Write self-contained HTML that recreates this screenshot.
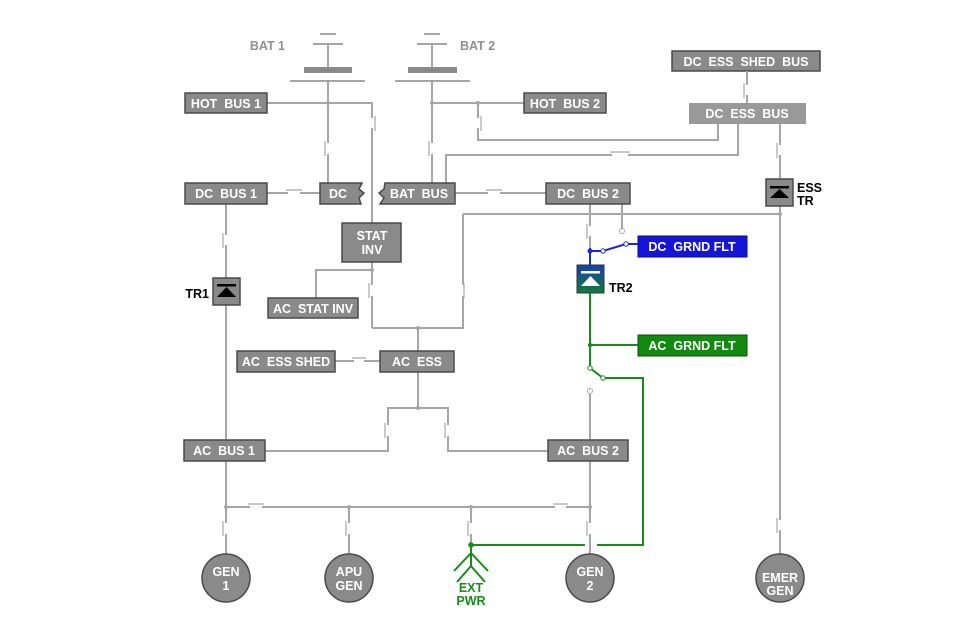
<!DOCTYPE html>
<html><head><meta charset="utf-8"><style>
html,body{margin:0;padding:0;background:#fff;}
svg{display:block}
text{font-family:"Liberation Sans",sans-serif;font-weight:bold;white-space:pre;}
.b{fill:#8a8a8a;stroke:#4a4a4a;stroke-width:1.5}
.t{fill:#fff;font-size:12.5px;text-anchor:middle}
.l{stroke:#a6a6a6;stroke-width:2;fill:none}
.s{stroke:#a6a6a6;stroke-width:1.2;fill:none}
.g{stroke:#1a8a1a;stroke-width:2;fill:none}
.bl{stroke:#1a2ad0;stroke-width:2;fill:none}
</style></head><body>
<svg width="960" height="641" viewBox="0 0 960 641" xml:space="preserve">
<g class="l">
<line x1="320" y1="34" x2="336" y2="34"/><line x1="313" y1="44" x2="343" y2="44"/><line x1="328" y1="44" x2="328" y2="67"/>
<line x1="290" y1="81" x2="365" y2="81"/>
<line x1="424" y1="34" x2="440" y2="34"/><line x1="417" y1="44" x2="447" y2="44"/><line x1="432" y1="44" x2="432" y2="67"/>
<line x1="395" y1="81" x2="470" y2="81"/>
</g>
<rect x="304" y="67" width="48" height="6" fill="#8a8a8a"/>
<rect x="408" y="67" width="49" height="6" fill="#8a8a8a"/>
<text x="285" y="50" font-size="12.5" fill="#909090" text-anchor="end">BAT 1</text>
<text x="460" y="50" font-size="12.5" fill="#909090">BAT 2</text>

<g class="l">
<path d="M328 81V143M328 154V183"/>
<path d="M267 103H372V118M372 128V223"/>
<path d="M432 81V143M432 154V183"/>
<path d="M432 103H524"/>
<path d="M478 103V118M478 128V140H718V124"/>
<path d="M446 183V155H612M628 155H738V124"/>
<path d="M267 193H288M300 193H320"/>
<path d="M455 193H488M500 193H546"/>
<path d="M780 124V145M780 155V179"/>
<path d="M780 206V520M780 530V554"/>
<path d="M463 214H780"/>
<path d="M463 214V285M463 296V328H372"/>
<path d="M372 262V285M372 296V328"/>
<path d="M372 270H316V298"/>
<path d="M418 328V351"/>
<path d="M335 361H354M364 361H380"/>
<path d="M418 372V408H388V425M388 436V451H265"/>
<path d="M418 408H448V425M448 436V451H548"/>
<path d="M226 204V235M226 245V278"/>
<path d="M226 305V440"/>
<path d="M226 461V523M226 534V554"/>
<path d="M226 507H250M262 507H555M566 507H590"/>
<path d="M349 507V523M349 534V554"/>
<path d="M471 507V523M471 534V545"/>
<path d="M590 393V440M590 461V523M590 534V554"/>
<path d="M590 204V226M590 236V248"/>
<path d="M622 204V229"/>
</g>
<g class="s">
<path d="M325 141V156M375 116V131M429 141V156M481 116V131M223 233V248M464 283V298M369 283V298M385 423V438M445 423V438M223 521V536M346 521V536M468 521V536M587 521V536M777 518V533M777 143V158M587 224V239M286 190H302M486 190H502M610 152H630M352 358H366M248 504H264M553 504H568"/>
</g>
<circle cx="622" cy="231" r="2.5" fill="#fff" stroke="#a6a6a6"/>
<circle cx="590" cy="391" r="2.5" fill="#fff" stroke="#a6a6a6"/>
<g fill="#a6a6a6"><circle cx="328" cy="103" r="2"/><circle cx="432" cy="103" r="2"/><circle cx="478" cy="103" r="2"/><circle cx="418" cy="328" r="2"/><circle cx="372" cy="270" r="2"/><circle cx="418" cy="408" r="2"/><circle cx="226" cy="507" r="2"/><circle cx="349" cy="507" r="2"/><circle cx="471" cy="507" r="2"/><circle cx="590" cy="507" r="2"/><circle cx="780" cy="214" r="2"/></g>

<rect class="b" x="185" y="93" width="82" height="20"/><text class="t" x="226" y="108">HOT  BUS 1</text>
<rect class="b" x="524" y="93" width="82" height="20"/><text class="t" x="565" y="108">HOT  BUS 2</text>
<rect class="b" x="185" y="183" width="82" height="21"/><text class="t" x="226" y="198">DC  BUS 1</text>
<path class="b" d="M320 183H362L359 189L364 193L359 198L361 204H320Z"/><text class="t" x="338" y="198">DC</text>
<path class="b" d="M385 183H455V204H380L384 198L379 193L384 189Z"/><text class="t" x="419" y="198">BAT  BUS</text>
<rect class="b" x="546" y="183" width="84" height="21"/><text class="t" x="588" y="198">DC  BUS 2</text>
<rect class="b" x="672" y="51" width="148" height="20"/><text class="t" x="746" y="66">DC  ESS  SHED  BUS</text>
<path class="l" d="M747 71V85M747 95V103"/><path class="s" d="M744 83V98"/>
<rect x="689" y="103" width="117" height="21" fill="#999"/><text class="t" x="747" y="118">DC  ESS  BUS</text>
<rect class="b" x="342" y="223" width="59" height="39"/><text class="t" x="372" y="240">STAT</text><text class="t" x="372" y="254">INV</text>
<rect class="b" x="268" y="298" width="90" height="20"/><text class="t" x="313" y="313">AC  STAT INV</text>
<rect class="b" x="237" y="351" width="98" height="21"/><text class="t" x="286" y="366">AC  ESS SHED</text>
<rect class="b" x="380" y="351" width="74" height="21"/><text class="t" x="417" y="366">AC  ESS</text>
<rect class="b" x="184" y="440" width="81" height="21"/><text class="t" x="224" y="455">AC  BUS 1</text>
<rect class="b" x="548" y="440" width="80" height="21"/><text class="t" x="588" y="455">AC  BUS 2</text>

<rect class="b" x="213" y="278" width="27" height="27"/><rect x="217" y="284" width="19" height="2.5" fill="#000"/><path d="M217 297H236L226.5 287Z" fill="#000"/><text x="209" y="298" font-size="12.5" text-anchor="end">TR1</text>
<rect class="b" x="766" y="179" width="27" height="27"/><rect x="770" y="186" width="19" height="2.5" fill="#000"/><path d="M770 198H789L779.5 189Z" fill="#000"/><text x="797" y="192" font-size="12.5">ESS</text><text x="797" y="205" font-size="12.5">TR</text>

<defs><linearGradient id="tg" x1="0" y1="0" x2="0" y2="1"><stop offset="0" stop-color="#1a3fb0"/><stop offset="1" stop-color="#137a3a"/></linearGradient></defs>
<path class="bl" d="M590 248V265M590 251H603L626 244H638"/>
<circle cx="590" cy="251" r="2.5" fill="#1a2ad0"/><circle cx="603" cy="251" r="2.2" fill="#fff" stroke="#1a2ad0"/><circle cx="626" cy="244" r="2.2" fill="#fff" stroke="#1a2ad0"/>
<rect x="638" y="236" width="109" height="21" fill="#1515d8" stroke="#0a0a80"/><text class="t" x="692" y="251">DC  GRND FLT</text>
<rect x="577" y="265" width="27" height="28" fill="url(#tg)" stroke="#333"/><rect x="581" y="271" width="19" height="2.5" fill="#fff"/><path d="M581 286H600L590.5 276Z" fill="#fff"/>
<text x="609" y="292" font-size="12.5">TR2</text>
<path class="g" d="M590 293V345H638M590 345V368L603 378H643V545H597M585 545H471"/>
<circle cx="590" cy="345" r="2.2" fill="#1a8a1a"/><circle cx="590" cy="368" r="2.2" fill="#fff" stroke="#1a8a1a"/><circle cx="603" cy="378" r="2.2" fill="#fff" stroke="#1a8a1a"/>
<rect x="638" y="335" width="109" height="21" fill="#128a12" stroke="#0a500a"/><text class="t" x="692" y="350">AC  GRND FLT</text>
<circle cx="471" cy="545" r="2.8" fill="#1a8a1a"/>
<path class="g" d="M471 545V566M471 553L454 571M471 553L488 571M471 566L457 582M471 566L485 582"/>
<text x="471" y="592" font-size="12.5" fill="#1a8a1a" text-anchor="middle">EXT</text><text x="471" y="605" font-size="12.5" fill="#1a8a1a" text-anchor="middle">PWR</text>

<g fill="#8a8a8a" stroke="#4a4a4a" stroke-width="1.5"><circle cx="226" cy="578" r="24"/><circle cx="349" cy="578" r="24"/><circle cx="590" cy="578" r="24"/><circle cx="780" cy="578" r="24"/></g>
<text class="t" x="226" y="576">GEN</text><text class="t" x="226" y="590">1</text>
<text class="t" x="349" y="576">APU</text><text class="t" x="349" y="590">GEN</text>
<text class="t" x="590" y="576">GEN</text><text class="t" x="590" y="590">2</text>
<text class="t" x="780" y="582" font-size="11.5">EMER</text><text class="t" x="780" y="595" font-size="11.5">GEN</text>
</svg>
</body></html>
